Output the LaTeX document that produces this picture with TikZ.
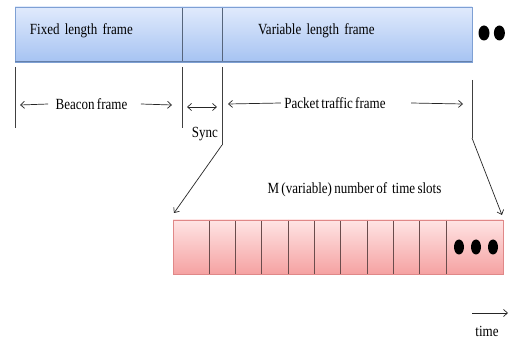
\documentclass[tikz,border=0pt]{standalone}
\usepackage{fontspec}
\setmainfont{Liberation Serif}[FakeStretch=0.84, WordSpace=0.7]
\usetikzlibrary{positioning, arrows.meta, calc, shapes.geometric}

\definecolor{barblue}{HTML}{7EA0D4}
\definecolor{bartop}{HTML}{E0EAFC}
\definecolor{barbottom}{HTML}{A6C3F2}
\definecolor{bardiv}{HTML}{56657C}
\definecolor{slotred}{HTML}{E08888}
\definecolor{slottop}{HTML}{FFE4E4}
\definecolor{slotbottom}{HTML}{F5A2A2}
\definecolor{slotdiv}{HTML}{6A4C4C}

\begin{document}
\begin{tikzpicture}[
    x=1pt, y=-1pt,
    every node/.style={font=\fontsize{15.5}{17}\selectfont},
    framebox/.style={rectangle, top color=bartop, bottom color=barbottom, minimum height=55pt, inner sep=0pt, outer sep=0pt, align=left, text depth=10pt},
    slotbox/.style={rectangle, top color=slottop, bottom color=slotbottom, minimum height=54pt, inner sep=0pt, outer sep=0pt},
    dotmark/.style={ellipse, fill=black, inner sep=0pt, minimum width=11pt, minimum height=15pt},
    tick/.style={draw=black!75, line width=0.6pt},
    tip/.style={draw=black!85, line width=0.7pt, -{Straight Barb[length=4pt,width=7pt]}},
    tips/.style={draw=black!85, line width=0.7pt, {Straight Barb[length=4pt,width=7pt]}-{Straight Barb[length=4pt,width=7pt]}}
]
\useasboundingbox (0,0) rectangle (509,339);

% frame bar
\node[framebox, minimum width=167pt, text width=137pt, inner xsep=15pt](fixed) at (98.5,34.5){Fixed length frame};
\node[framebox, minimum width=40pt](sync)[right = 0pt of fixed]{};
\node[framebox, minimum width=250pt, text width=178pt, inner xsep=36pt](var)[right = 0pt of sync]{Variable length frame};
\draw[bardiv, line width=0.9pt] (sync.north west) -- (sync.south west);
\draw[bardiv, line width=0.9pt] (sync.north east) -- (sync.south east);
\draw[barblue, line width=0.8pt] (fixed.north west) rectangle (var.south east);
\draw[barblue!80!black, line width=1pt] (fixed.south west) -- (var.south east);
\node[dotmark](d1) at (484,33){};
\node[dotmark](d2)[right = 4pt of d1]{};

% ticks
\coordinate (t1) at (15,67);
\coordinate (t2) at (182,67);
\coordinate (t3) at (222,67);
\coordinate (t4) at (472,80);
\draw[tick] (t1) -- ++(0,61);
\draw[tick] (t2) -- ++(0,61);
\draw[tick] (t3) -- ++(0,78) coordinate (t3end);
\draw[tick] (t4) -- ++(0,58) coordinate (t4end);

% spans
\node(beacon) at (91.5,104){Beacon frame};
\draw[tip] ([xshift=-4pt]beacon.west) -- ($(t1)+(5,38)$);
\draw[tip] ([xshift=10pt]beacon.east) -- ($(t2)+(-10,38)$);
\draw[tips] ($(t2)+(5,40)$) -- ($(t3)+(-5,40)$);
\node(synclabel) at (205,134){Sync};
\node(packet) at (335,103){Packet traffic frame};
\draw[tip] ([xshift=0pt]packet.west) -- ($(t3)+(6,37)$);
\draw[tip] ([xshift=22pt]packet.east) -- ($(t4)+(-9,24)$);

% time slots
\node[slotbox, minimum width=36pt](s0) at (191,247){};
\foreach \i [count=\j from 0] in {1,...,9}
    \node[slotbox, minimum width=26.33pt](s\i)[right = 0pt of s\j]{};
\node[slotbox, minimum width=57pt](s10)[right = 0pt of s9]{};
\foreach \i in {1,...,10}
    \draw[slotdiv, line width=0.7pt] (s\i.north west) -- (s\i.south west);
\draw[slotred, line width=0.8pt] (s0.north west) rectangle (s10.south east);
\node[dotmark, minimum width=10pt](e1) at (459,247){};
\node[dotmark, minimum width=10pt](e2) at (476,247){};
\node[dotmark, minimum width=10pt](e3) at (493,247){};
\node(slots) at (354.5,190){M (variable) number of\, time slots};

% zoom arrows
\draw[tip] (t3end) -- ($(s0.north west)+(1,-7)$);
\draw[tip] (t4end) -- ($(s10.north east)+(-1,-5)$);

% time axis
\node(time) at (487,331){time};
\coordinate (tstart) at (472,313);
\draw[tip] (tstart) -- ++(36,0);
\end{tikzpicture}
\end{document}
